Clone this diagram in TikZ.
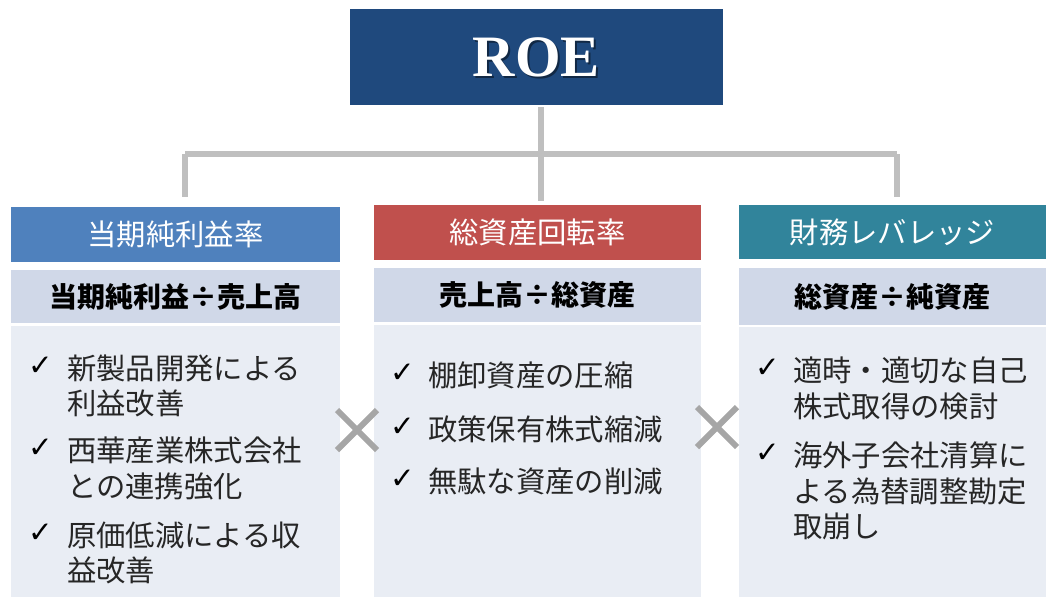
\documentclass[tikz,border=0pt]{standalone}
\usepackage{fontspec}
\newfontfamily\jp{Noto Sans CJK JP}
\newfontfamily\symf{DejaVu Sans}
\newfontfamily\roefont{Liberation Serif}
\definecolor{roeblue}{HTML}{1F497D}
\definecolor{hblue}{HTML}{4F81BD}
\definecolor{hred}{HTML}{C0504D}
\definecolor{hteal}{HTML}{31849B}
\definecolor{fbox}{HTML}{D0D8E8}
\definecolor{bbox}{HTML}{E9EDF4}
\definecolor{conn}{HTML}{BFBFBF}
\definecolor{xgray}{HTML}{A6A6A6}
\definecolor{txt}{HTML}{262626}
\tikzset{
  hdrbox/.style={inner sep=0, draw=none, text=white, font=\jp\fontsize{22}{24}\selectfont},
  frmbox/.style={inner sep=0, draw=none, fill=fbox, text=black, font=\jp\bfseries\fontsize{21}{24}\selectfont},
  bodybox/.style={inner sep=0, draw=none, fill=bbox},
  chk/.style={inner sep=0, text=black, font=\symf\fontsize{22}{24}\selectfont},
  item/.style={inner sep=0, anchor=west, text=txt, font=\jp\fontsize{22}{24}\selectfont},
  connline/.style={draw=conn, line width=4.5pt},
  xmark/.style={draw=xgray, line width=4.5pt}
}
\begin{document}
\begin{tikzpicture}[x=0.75pt,y=-0.75pt]
\useasboundingbox (0,0) rectangle (1046,597);
% ROE
\node[fill=roeblue, inner sep=0, minimum width=279.75pt, minimum height=72pt] (roe) at (536.5,57) {};
\node[text=black, opacity=0.45, font=\roefont\bfseries\fontsize{44}{48}\selectfont, inner sep=0] (roeshadow) at (538.5,59.5) {ROE};
\node[text=white, font=\roefont\bfseries\fontsize{44}{48}\selectfont, inner sep=0] (roetext) at (536.5,57.5) {ROE};
% columns
\node[hdrbox, fill=hblue, minimum width=246.75pt, minimum height=41.25pt] (h1) at (175.5,234.5) {当期純利益率};
\node[frmbox, minimum width=246.75pt, minimum height=39.75pt] (f1) at (175.5,296.5) {当期純利益÷売上高};
\node[bodybox, minimum width=246.75pt, minimum height=203.25pt] (b1) at (175.5,461.5) {};
\node[hdrbox, fill=hred, minimum width=245.25pt, minimum height=41.25pt] (h2) at (537.5,232.5) {総資産回転率};
\node[frmbox, minimum width=245.25pt, minimum height=40.5pt] (f2) at (537.5,295) {売上高÷総資産};
\node[bodybox, minimum width=245.25pt, minimum height=204pt] (b2) at (537.5,461) {};
\node[hdrbox, fill=hteal, minimum width=230.25pt, minimum height=40.5pt] (h3) at (892.5,232) {財務レバレッジ};
\node[frmbox, minimum width=230.25pt, minimum height=42.75pt] (f3) at (892.5,296.5) {総資産÷純資産};
\node[bodybox, minimum width=230.25pt, minimum height=202.5pt] (b3) at (892.5,462) {};
% connectors
\coordinate (jl) at (185,154);
\coordinate (jr) at (897,154);
\coordinate (el) at (185,197);
\coordinate (er) at (897,197);
\coordinate (em) at (540.5,201);
\coordinate (sm) at (540.5,107);
\draw[connline] (jl) -- (jr);
\draw[connline] (sm) -- (em);
\draw[connline] (jl) -- (el);
\draw[connline] (jr) -- (er);
% left items
\node[chk] (c11) at (41,366) {✓};
\node[item] (t11) at (67,368) {新製品開発による};
\node[item] (t12) at (67,403) {利益改善};
\node[chk] (c12) at (41,448) {✓};
\node[item] (t13) at (67,450) {西華産業株式会社};
\node[item] (t14) at (67,486) {との連携強化};
\node[chk] (c13) at (41,533) {✓};
\node[item] (t15) at (67,535) {原価低減による収};
\node[item] (t16) at (67,570) {益改善};
% middle items
\node[chk] (c21) at (403,373) {✓};
\node[item] (t21) at (428,375) {棚卸資産の圧縮};
\node[chk] (c22) at (403,427) {✓};
\node[item] (t22) at (428,429) {政策保有株式縮減};
\node[chk] (c23) at (403,479) {✓};
\node[item] (t23) at (428,481) {無駄な資産の削減};
% right items
\node[chk] (c31) at (768,368) {✓};
\node[item] (t31) at (793,370) {適時・適切な自己};
\node[item] (t32) at (793,406) {株式取得の検討};
\node[chk] (c32) at (768,453) {✓};
\node[item] (t33) at (793,455) {海外子会社清算に};
\node[item] (t34) at (793,491) {よる為替調整勘定};
\node[item] (t35) at (793,526) {取崩し};
% multiplication marks
\coordinate (xa1) at (337,410); \coordinate (xa2) at (377,450);
\coordinate (xa3) at (337,450); \coordinate (xa4) at (377,410);
\draw[xmark] (xa1) -- (xa2);
\draw[xmark] (xa3) -- (xa4);
\coordinate (xb1) at (697,407); \coordinate (xb2) at (737,447);
\coordinate (xb3) at (697,447); \coordinate (xb4) at (737,407);
\draw[xmark] (xb1) -- (xb2);
\draw[xmark] (xb3) -- (xb4);
\end{tikzpicture}
\end{document}
